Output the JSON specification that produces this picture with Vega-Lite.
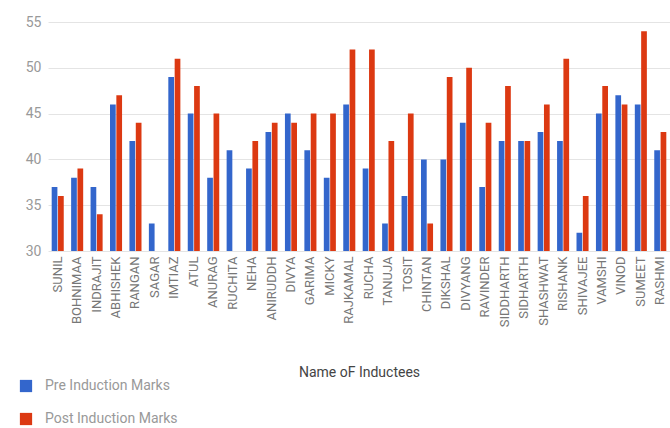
{
  "$schema": "https://vega.github.io/schema/vega-lite/v6.json",
  "autosize": {"type": "none"},
  "padding": {"left": 48, "top": 22, "right": 0, "bottom": 177},
  "width": 622,
  "height": 229,
  "config": {
    "view": {"stroke": null},
    "font": "Roboto"
  },
  "data": {
    "values": [
      {"name": "SUNIL", "series": "Pre Induction Marks", "marks": 37},
      {"name": "SUNIL", "series": "Post  Induction Marks", "marks": 36},
      {"name": "BOHNIMAA", "series": "Pre Induction Marks", "marks": 38},
      {"name": "BOHNIMAA", "series": "Post  Induction Marks", "marks": 39},
      {"name": "INDRAJIT", "series": "Pre Induction Marks", "marks": 37},
      {"name": "INDRAJIT", "series": "Post  Induction Marks", "marks": 34},
      {"name": "ABHISHEK", "series": "Pre Induction Marks", "marks": 46},
      {"name": "ABHISHEK", "series": "Post  Induction Marks", "marks": 47},
      {"name": "RANGAN", "series": "Pre Induction Marks", "marks": 42},
      {"name": "RANGAN", "series": "Post  Induction Marks", "marks": 44},
      {"name": "SAGAR", "series": "Pre Induction Marks", "marks": 33},
      {"name": "IMTIAZ", "series": "Pre Induction Marks", "marks": 49},
      {"name": "IMTIAZ", "series": "Post  Induction Marks", "marks": 51},
      {"name": "ATUL", "series": "Pre Induction Marks", "marks": 45},
      {"name": "ATUL", "series": "Post  Induction Marks", "marks": 48},
      {"name": "ANURAG", "series": "Pre Induction Marks", "marks": 38},
      {"name": "ANURAG", "series": "Post  Induction Marks", "marks": 45},
      {"name": "RUCHITA", "series": "Pre Induction Marks", "marks": 41},
      {"name": "NEHA", "series": "Pre Induction Marks", "marks": 39},
      {"name": "NEHA", "series": "Post  Induction Marks", "marks": 42},
      {"name": "ANIRUDDH", "series": "Pre Induction Marks", "marks": 43},
      {"name": "ANIRUDDH", "series": "Post  Induction Marks", "marks": 44},
      {"name": "DIVYA", "series": "Pre Induction Marks", "marks": 45},
      {"name": "DIVYA", "series": "Post  Induction Marks", "marks": 44},
      {"name": "GARIMA", "series": "Pre Induction Marks", "marks": 41},
      {"name": "GARIMA", "series": "Post  Induction Marks", "marks": 45},
      {"name": "MICKY", "series": "Pre Induction Marks", "marks": 38},
      {"name": "MICKY", "series": "Post  Induction Marks", "marks": 45},
      {"name": "RAJKAMAL", "series": "Pre Induction Marks", "marks": 46},
      {"name": "RAJKAMAL", "series": "Post  Induction Marks", "marks": 52},
      {"name": "RUCHA", "series": "Pre Induction Marks", "marks": 39},
      {"name": "RUCHA", "series": "Post  Induction Marks", "marks": 52},
      {"name": "TANUJA", "series": "Pre Induction Marks", "marks": 33},
      {"name": "TANUJA", "series": "Post  Induction Marks", "marks": 42},
      {"name": "TOSIT", "series": "Pre Induction Marks", "marks": 36},
      {"name": "TOSIT", "series": "Post  Induction Marks", "marks": 45},
      {"name": "CHINTAN", "series": "Pre Induction Marks", "marks": 40},
      {"name": "CHINTAN", "series": "Post  Induction Marks", "marks": 33},
      {"name": "DIKSHAL", "series": "Pre Induction Marks", "marks": 40},
      {"name": "DIKSHAL", "series": "Post  Induction Marks", "marks": 49},
      {"name": "DIVYANG", "series": "Pre Induction Marks", "marks": 44},
      {"name": "DIVYANG", "series": "Post  Induction Marks", "marks": 50},
      {"name": "RAVINDER", "series": "Pre Induction Marks", "marks": 37},
      {"name": "RAVINDER", "series": "Post  Induction Marks", "marks": 44},
      {"name": "SIDDHARTH", "series": "Pre Induction Marks", "marks": 42},
      {"name": "SIDDHARTH", "series": "Post  Induction Marks", "marks": 48},
      {"name": "SIDHARTH", "series": "Pre Induction Marks", "marks": 42},
      {"name": "SIDHARTH", "series": "Post  Induction Marks", "marks": 42},
      {"name": "SHASHWAT", "series": "Pre Induction Marks", "marks": 43},
      {"name": "SHASHWAT", "series": "Post  Induction Marks", "marks": 46},
      {"name": "RISHANK", "series": "Pre Induction Marks", "marks": 42},
      {"name": "RISHANK", "series": "Post  Induction Marks", "marks": 51},
      {"name": "SHIVAJEE", "series": "Pre Induction Marks", "marks": 32},
      {"name": "SHIVAJEE", "series": "Post  Induction Marks", "marks": 36},
      {"name": "VAMSHI", "series": "Pre Induction Marks", "marks": 45},
      {"name": "VAMSHI", "series": "Post  Induction Marks", "marks": 48},
      {"name": "VINOD", "series": "Pre Induction Marks", "marks": 47},
      {"name": "VINOD", "series": "Post  Induction Marks", "marks": 46},
      {"name": "SUMEET", "series": "Pre Induction Marks", "marks": 46},
      {"name": "SUMEET", "series": "Post  Induction Marks", "marks": 54},
      {"name": "RASHMI", "series": "Pre Induction Marks", "marks": 41},
      {"name": "RASHMI", "series": "Post  Induction Marks", "marks": 43}
    ]
  },
  "mark": {"type": "bar", "clip": true},
  "encoding": {
    "x": {
      "field": "name",
      "type": "nominal",
      "sort": null,
      "scale": {"paddingInner": 0.38, "paddingOuter": 0.19},
      "axis": {
        "title": "Name oF Inductees",
        "titleFontSize": 14,
        "titleFontWeight": "normal",
        "titleColor": "#444444",
        "titleY": 121,
        "titleBaseline": "middle",
        "labelAngle": -90,
        "labelFontSize": 13,
        "labelColor": "#777777",
        "labelPadding": 5,
        "ticks": false,
        "domain": false
      }
    },
    "xOffset": {
      "field": "series",
      "type": "nominal",
      "sort": ["Pre Induction Marks", "Post  Induction Marks"],
      "scale": {"paddingInner": 0.1}
    },
    "y": {
      "field": "marks",
      "type": "quantitative",
      "scale": {"domain": [30, 55], "zero": false, "nice": false},
      "axis": {
        "title": null,
        "values": [30, 35, 40, 45, 50, 55],
        "labelFontSize": 14,
        "labelColor": "#999999",
        "labelPadding": 7,
        "ticks": false,
        "domain": false,
        "gridColor": "#e4e4e4"
      }
    },
    "color": {
      "field": "series",
      "type": "nominal",
      "sort": ["Pre Induction Marks", "Post  Induction Marks"],
      "scale": {
        "domain": ["Pre Induction Marks", "Post  Induction Marks"],
        "range": ["#3366cc", "#dc3912"]
      },
      "legend": {
        "title": null,
        "orient": "none",
        "legendX": -29,
        "legendY": 357,
        "symbolType": "square",
        "symbolSize": 150,
        "symbolStrokeWidth": 0,
        "labelFontSize": 14,
        "labelColor": "#999999",
        "labelOffset": 12,
        "rowPadding": 19
      }
    }
  }
}
